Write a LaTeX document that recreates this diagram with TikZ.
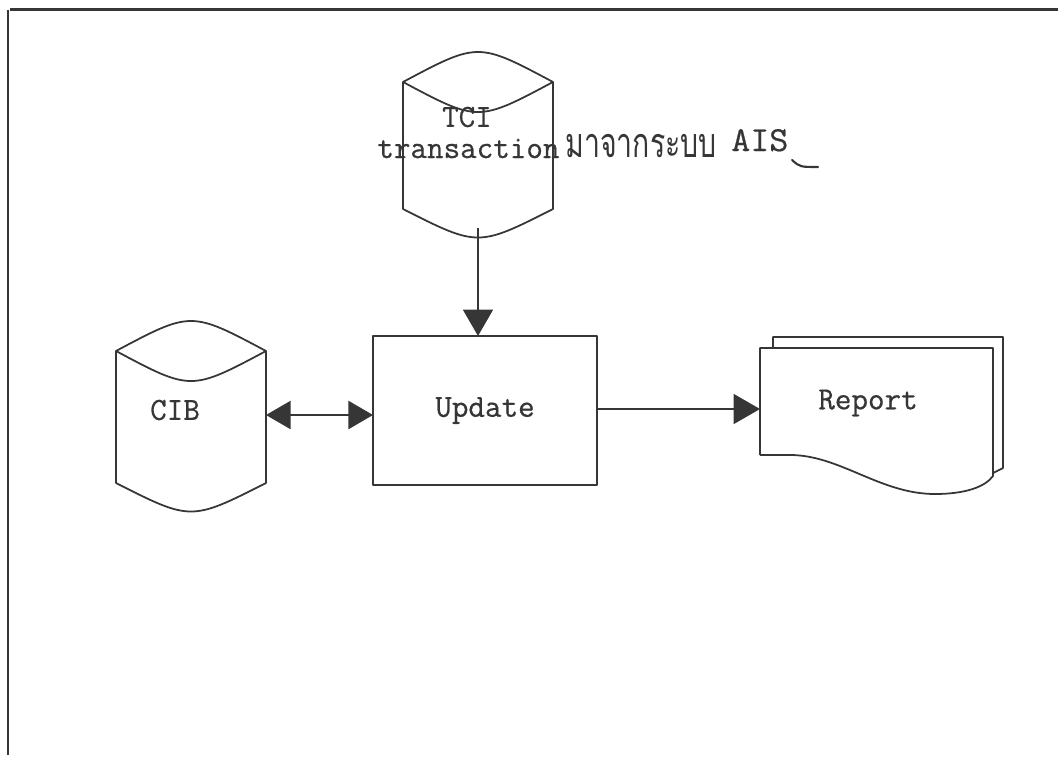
\documentclass[tikz,border=0pt]{standalone}
\usepackage{graphicx}
\usepackage{fontspec}
\newfontfamily\thaifont[Script=Thai]{Loma}
\newfontfamily\typewriter{Latin Modern Mono}[FakeBold=0.6]
\usetikzlibrary{arrows.meta}
\definecolor{ink}{HTML}{363636}
\begin{document}
\begin{tikzpicture}[x=0.02cm,y=-0.02cm,
  ln/.style={draw=ink, line width=1pt, line join=round},
  frameline/.style={draw=ink, line width=1.6pt},
  bigtip/.style={-{Triangle[length=15pt,width=17pt]}},
  bothtips/.style={{Triangle[length=14pt,width=16pt]}-{Triangle[length=14pt,width=16pt]}},
  hold/.style={inner sep=0pt, outer sep=0pt, draw=none},
  txt/.style={inner sep=0pt, text=ink, font=\typewriter\fontsize{18.3}{21}\selectfont},
  procbox/.style={ln, inner sep=0pt, outer sep=0pt, text=ink,
    font=\typewriter\fontsize{18.3}{21}\selectfont}]
\useasboundingbox (0,0) rectangle (1058,765);

% page frame (left and top edges)
\draw[frameline] (8,755) -- (8,10);
\draw[frameline] (10,9.5) -- (1058,9.5);

% transaction file (cylinder)
\node[hold, minimum width=3cm, minimum height=3.32cm] (tci) at (478,145) {};
\draw[ln] (403,82) .. controls (478,42) .. (553,82)
          .. controls (478,122) .. (403,82) -- (403,209)
          .. controls (478,247) .. (553,209) -- (553,82);
\node[txt] (tcil) at (467,117) {TCI};
\node[txt, anchor=base west] (trl) at (377,158) {transaction};
\node[txt, anchor=base west] (thl) at (565,157)
  {\thaifont\fontsize{16.2}{19}\selectfont\scalebox{1}[1.45]{มาจากระบบ}};
\node[txt, anchor=base west] (aisl) at (731,151)
  {\fontsize{20}{23}\selectfont\scalebox{1.05}[1]{AIS}};
\draw[ink, line width=1.2pt, line cap=round] (792,160) .. controls (800,167) .. (818,167);

% CIB master file (cylinder)
\node[hold, minimum width=3cm, minimum height=3.32cm] (cib) at (191,415) {};
\draw[ln] (116,351) .. controls (191,311) .. (266,351)
          .. controls (191,391) .. (116,351) -- (116,483)
          .. controls (191,521) .. (266,483) -- (266,351);
\node[txt] (cibl) at (175,410) {CIB};

% update process
\node[procbox, minimum width=4.48cm, minimum height=2.98cm] (upd) at (485,410.5) {Update};

% report (stacked documents)
\node[hold, minimum width=4.66cm, minimum height=2.44cm] (rep) at (876.5,409) {};
\draw[ln] (773,348) -- (773,337) -- (1003,337) -- (1003,468) -- (993,473);
\draw[ln] (760,455) -- (760,348) -- (993,348) -- (993,476)
          .. controls (985,487) and (965,494) .. (935,494)
          .. controls (880,494) and (840,455) .. (790,455) -- (760,455);
\node[txt] (repl) at (868,403) {Report};

% data flows
\draw[ln, fill=ink, bigtip] (tci.south) -- (tci.south |- upd.north);
\draw[ln, fill=ink, bothtips] (cib.east) -- (cib.east -| upd.west);
\draw[ln, fill=ink, bigtip] (upd.east |- rep.west) -- (rep.west);
\end{tikzpicture}
\end{document}
